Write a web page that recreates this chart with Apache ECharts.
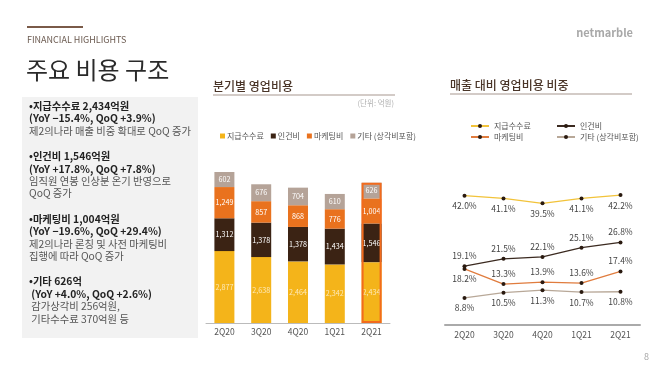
<!DOCTYPE html>
<html><head><meta charset="utf-8">
<script src="https://cdn.jsdelivr.net/npm/echarts@6/dist/echarts.min.js"></script>
<style>html,body{margin:0;padding:0;background:#fff}#c{width:660px;height:371px}</style>
</head><body><div id="c"></div>
<script>
const quarters = ['2Q20','3Q20','4Q20','1Q21','2Q21'];
const feeCost = [2877,2638,2464,2342,2434];
const laborCost = [1312,1378,1378,1434,1546];
const marketingCost = [1249,857,868,776,1004];
const otherCost = [602,676,704,610,626];
const feeRatio = [42.0,41.1,39.5,41.1,42.2];
const laborRatio = [19.1,21.5,22.1,25.1,26.8];
const marketingRatio = [18.2,13.3,13.9,13.6,17.4];
const otherRatio = [8.8,10.5,11.3,10.7,10.8];
const costNames = ['지급수수료','인건비','마케팅비','기타 (상각비포함)'];
const highlightQuarter = '2Q21';
const panelLines = [
  ['•지급수수료 2,434억원', true],
  ['(YoY −15.4%, QoQ +3.9%)', true],
  ['제2의나라 매출 비중 확대로 QoQ 증가', false],
  null,
  ['•인건비 1,546억원', true],
  ['(YoY +17.8%, QoQ +7.8%)', true],
  ['임직원 연봉 인상분 온기 반영으로', false],
  ['QoQ 증가', false],
  null,
  ['•마케팅비 1,004억원', true],
  ['(YoY −19.6%, QoQ +29.4%)', true],
  ['제2의나라 론칭 및 사전 마케팅비', false],
  ['집행에 따라 QoQ 증가', false],
  null,
  ['•기타 626억', true],
  [' (YoY +4.0%, QoQ +2.6%)', true],
  [' 감가상각비 256억원,', false],
  [' 기타수수료 370억원 등', false]
];

const FONT = '"Noto Sans CJK KR", "Noto Sans", sans-serif';
const colors = ['#f4b41a','#3b2314','#e9721e','#b5a398'];
const lineColors = ['#f2c33a','#3b2a20','#e07c3e','#b8a898'];
const costs = [feeCost, laborCost, marketingCost, otherCost];
const ratios = [feeRatio, laborRatio, marketingRatio, otherRatio];
const totals = quarters.map((q,i)=>costs.reduce((s,a)=>s+a[i],0));

const fmt = v => Number(v).toLocaleString('en-US');

const graphics = [];
graphics.push({type:'rect', shape:{x:27,y:26,width:56,height:2}, style:{fill:'#7a5a48'}});
graphics.push({type:'text', style:{text:'FINANCIAL HIGHLIGHTS', x:27, y:40, font:'9px '+FONT, fill:'#6b5a50', textVerticalAlign:'middle'}});
graphics.push({type:'text', style:{text:'주요 비용 구조', x:26, y:70, font:'24px '+FONT, fill:'#2a2a2a', textVerticalAlign:'middle'}});
graphics.push({type:'text', style:{text:'netmarble', x:633, y:33, font:'bold 11px '+FONT, fill:'#a8a8a8', textAlign:'right', textVerticalAlign:'middle'}});
graphics.push({type:'text', style:{text:'8', x:649, y:357, font:'9px '+FONT, fill:'#aaa', textAlign:'right', textVerticalAlign:'middle'}});
graphics.push({type:'rect', shape:{x:22,y:97,width:176,height:241}, style:{fill:'#f2f2f2'}});
let y = 106;
panelLines.forEach(l=>{
  if(!l){ y += 13; return; }
  graphics.push({type:'text', style:{text:l[0], x:29, y:y, font:(l[1]?'bold ':'')+'10.3px '+FONT, fill:l[1]?'#222':'#555', textVerticalAlign:'middle'}});
  y += 12.4;
});
graphics.push({type:'text', style:{text:'분기별 영업비용', x:213, y:86, font:'500 12px '+FONT, fill:'#4a3528', textVerticalAlign:'middle'}});
graphics.push({type:'rect', shape:{x:213,y:94.5,width:182,height:1}, style:{fill:'#a89890'}});
graphics.push({type:'text', style:{text:'(단위: 억원)', x:394, y:103, font:'7.5px '+FONT, fill:'#b0b0b0', textAlign:'right', textVerticalAlign:'middle'}});
graphics.push({type:'text', style:{text:'매출 대비 영업비용 비중', x:450, y:85, font:'500 12px '+FONT, fill:'#4a3528', textVerticalAlign:'middle'}});
graphics.push({type:'rect', shape:{x:450,y:93.5,width:182,height:1}, style:{fill:'#a89890'}});

const series = [];
costNames.forEach((n,k)=>{
  series.push({
    name:n, type:'bar', stack:'cost', xAxisIndex:0, yAxisIndex:0, barWidth:20,
    data: costs[k], itemStyle:{color:colors[k]},
    label:{show:true, position:'inside', overflow:'none', width:40, formatter:p=>fmt(p.value), fontSize:7.2, fontFamily:FONT, color:k===0?'#fde9b8':'#fff'}
  });
});
series.push({
  name:'highlight', type:'bar', xAxisIndex:0, yAxisIndex:0, barWidth:20, barGap:'-100%', z:5, silent:true,
  data: quarters.map((q,i)=> q===highlightQuarter ? totals[i] : '-'),
  itemStyle:{color:'rgba(0,0,0,0)', borderColor:'#f26b1d', borderWidth:2}
});
const labelPos = [
  quarters.map(()=> 'bottom'),
  quarters.map(()=> 'top'),
  quarters.map((q,i)=> i===0 ? 'bottom' : 'top'),
  quarters.map(()=> 'bottom')
];
costNames.forEach((n,k)=>{
  series.push({
    name:n+' 비중', type:'line', xAxisIndex:1, yAxisIndex:1,
    data: ratios[k].map((v,i)=>({value:v, label:{position:labelPos[k][i]}})),
    symbol:'circle', symbolSize:4, lineStyle:{color:lineColors[k], width:1.3},
    itemStyle:{color:'#2a1a10'},
    label:{show:true, formatter:p=>p.value.toFixed(1)+'%', fontSize:8.5, fontFamily:FONT, color:'#444', distance:4}
  });
});

const option = {
  animation:false,
  textStyle:{fontFamily:FONT},
  graphic: graphics,
  legend:[
    {data:costNames, left:215, top:127, icon:'rect', itemWidth:5, itemHeight:5, itemGap:7,
     textStyle:{fontSize:8, color:'#555', fontFamily:FONT, padding:[0,0,0,-3]}},
    {data:[costNames[0]+' 비중', costNames[2]+' 비중'], left:465, top:117, orient:'vertical', itemGap:3, itemWidth:18, itemHeight:5,
     formatter:n=>n.replace(/ 비중$/,''), textStyle:{fontSize:8, color:'#555', fontFamily:FONT}},
    {data:[costNames[1]+' 비중', costNames[3]+' 비중'], left:551, top:117, orient:'vertical', itemGap:3, itemWidth:18, itemHeight:5,
     formatter:n=>n.replace(/ 비중$/,''), textStyle:{fontSize:8, color:'#555', fontFamily:FONT}}
  ],
  grid:[
    {left:206, width:184, top:123, bottom:48},
    {left:445, width:195, top:171, bottom:46}
  ],
  xAxis:[
    {type:'category', data:quarters, gridIndex:0, axisTick:{show:false},
     axisLine:{lineStyle:{color:'#bbb', width:1}}, axisLabel:{fontSize:8.5, color:'#555', margin:5}},
    {type:'category', data:quarters, gridIndex:1, axisTick:{show:false},
     axisLine:{lineStyle:{color:'#aaa', width:2}}, axisLabel:{fontSize:8.5, color:'#555', margin:6}}
  ],
  yAxis:[
    {type:'value', gridIndex:0, min:0, max:8000, show:false, splitLine:{show:false}},
    {type:'value', gridIndex:1, min:0, max:50, show:false, splitLine:{show:false}}
  ],
  series: series
};
const chart = echarts.init(document.getElementById('c'), null, {renderer:'canvas'});
chart.setOption(option);
</script></body></html>
